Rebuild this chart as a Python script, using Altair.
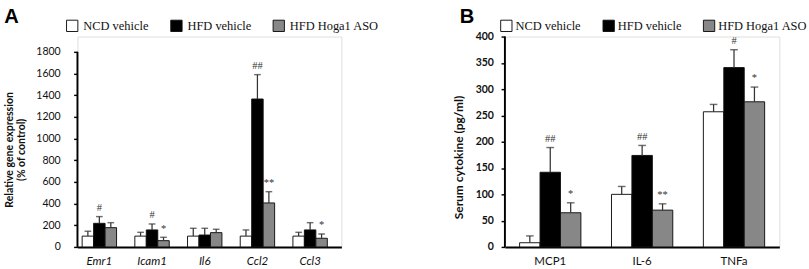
import altair as alt
import pandas as pd

groups = ["NCD vehicle", "HFD vehicle", "HFD Hoga1 ASO"]
fills = ["#ffffff", "#000000", "#878787"]

# Panel A: relative gene expression (% of control)
genes = ["Emr1", "Icam1", "Il6", "Ccl2", "Ccl3"]
a_ncd = [100, 100, 100, 100, 100]
a_ncd_err = [45, 35, 72, 57, 35]
a_hfd = [218, 157, 110, 1365, 157]
a_hfd_err = [62, 55, 62, 225, 67]
a_aso = [178, 58, 132, 406, 80]
a_aso_err = [46, 31, 31, 104, 40]
a_ncd_sig = ["", "", "", "", ""]
a_hfd_sig = ["#", "#", "", "##", ""]
a_aso_sig = ["", "*", "", "**", "*"]
a_ticks = [0, 200, 400, 600, 800, 1000, 1200, 1400, 1600, 1800]

# Panel B: serum cytokine (pg/ml)
cytokines = ["MCP1", "IL-6", "TNFa"]
b_ncd = [8, 100, 257]
b_ncd_err = [13, 15, 14]
b_hfd = [142, 174, 341]
b_hfd_err = [47, 19, 34]
b_aso = [65, 70, 276]
b_aso_err = [19, 12, 28]
b_ncd_sig = ["", "", ""]
b_hfd_sig = ["##", "##", "#"]
b_aso_sig = ["*", "**", "*"]
b_ticks = [0, 50, 100, 150, 200, 250, 300, 350, 400]

H = 220


def make_df(cats, vals, errs, sigs):
    rows = []
    for g, v, e, s in zip(groups, vals, errs, sigs):
        for c, vv, ee, ss in zip(cats, v, e, s):
            rows.append({"cat": c, "group": g, "value": vv, "top": vv + ee, "sig": ss})
    return pd.DataFrame(rows)


df_a = make_df(genes, [a_ncd, a_hfd, a_aso], [a_ncd_err, a_hfd_err, a_aso_err],
               [a_ncd_sig, a_hfd_sig, a_aso_sig])
df_b = make_df(cytokines, [b_ncd, b_hfd, b_aso], [b_ncd_err, b_hfd_err, b_aso_err],
               [b_ncd_sig, b_hfd_sig, b_aso_sig])

SANS = "Lato"
SERIF = "Liberation Serif"


def panel(df, cats, letter, ydom, yticks, ytitle, width, x_italic, tick_bold,
          tick_pad, title_size, title_y, align, pin, pout, leg_x, leg_off, cap, letter_dx,
          axis_top):
    yscale = alt.Scale(domain=[0, ydom], nice=False, zero=True)
    yaxis = alt.Axis(values=yticks, domain=False, grid=False, format="d",
                     labelOverlap=False, tickCount=len(yticks),
                     labelFont=SANS, labelFontSize=11,
                     labelFontWeight="bold" if tick_bold else "normal",
                     labelColor="#111", tickColor="black", tickSize=4,
                     tickWidth=1.5, labelPadding=tick_pad,
                     titleFont=SANS, titleFontSize=title_size,
                     titleFontWeight="bold", titleColor="#111",
                     titlePadding=10, titleY=title_y, titleLineHeight=12)
    xenc = alt.X("cat:N", sort=cats, title=None,
                 scale=alt.Scale(paddingInner=pin, paddingOuter=pout, align=align),
                 axis=alt.Axis(labelFont=SANS, labelFontSize=12, labelColor="#111",
                               labelFontStyle="italic" if x_italic else "normal",
                               labelAngle=0, ticks=False, labelPadding=9,
                               domainColor="black", domainWidth=2))
    xoff = alt.XOffset("group:N", sort=groups,
                       scale=alt.Scale(paddingInner=0, paddingOuter=0))
    base = alt.Chart(df).encode(x=xenc, xOffset=xoff)
    bars = base.mark_bar(stroke="#111", strokeWidth=1).encode(
        y=alt.Y("value:Q", scale=yscale, title=ytitle, axis=yaxis),
        color=alt.Color("group:N", sort=groups,
                        scale=alt.Scale(domain=groups, range=fills),
                        legend=alt.Legend(title=None, orient="none", direction="horizontal",
                                          legendX=leg_x, legendY=-18,
                                          symbolType="square", symbolSize=140,
                                          symbolStrokeColor="#111", symbolStrokeWidth=1,
                                          symbolOpacity=1,
                                          labelFont=SERIF, labelFontSize=13,
                                          labelColor="#111", labelOffset=leg_off,
                                          columnPadding=20)),
    )
    err = base.mark_rule(color="#333", strokeWidth=1.3).encode(
        y=alt.Y("value:Q", scale=yscale, title=ytitle, axis=yaxis), y2="top:Q")
    caps = base.mark_tick(color="#333", thickness=1.5, size=cap, orient="horizontal").encode(
        y=alt.Y("top:Q", scale=yscale, title=ytitle, axis=yaxis))
    sig = base.mark_text(font=SERIF, fontSize=11, color="#333", baseline="bottom", dy=-4).encode(
        y=alt.Y("top:Q", scale=yscale, title=ytitle, axis=yaxis), text="sig:N")
    axis_line = alt.Chart(pd.DataFrame({"lo": [0], "hi": [axis_top]})).mark_rule(
        color="black", strokeWidth=2).encode(
        x=alt.value(0), y=alt.Y("lo:Q", scale=yscale, title=ytitle, axis=yaxis), y2="hi:Q")
    return alt.layer(bars, err, caps, sig, axis_line).properties(
        width=width, height=H,
        title=alt.TitleParams(letter, anchor="start", font="Liberation Sans", fontSize=21,
                              fontWeight="bold", color="black", dx=letter_dx, offset=-8),
    )


chart_a = panel(df_a, genes, "A", 1800 * H / (H - 16), a_ticks,
                ["Relative gene expression", "(% of control)"], 276, True, False, 14,
                11, 118, 0.25, 0.347, 0.178, -12, 5, 7, 0, 1800)
chart_b = panel(df_b, cytokines, "B", 400, b_ticks, "Serum cytokine (pg/ml)", 287,
                False, True, 8, 12.5, 126, 0.5, 0.333, 0.16, -5, 3, 8, 7, 400)

chart = alt.hconcat(chart_a, chart_b, spacing=75).resolve_scale(
    color="independent", y="independent", x="independent", xOffset="independent"
).resolve_legend(color="independent").properties(
    padding={"left": 3, "top": 0, "right": 0, "bottom": 0}
).configure_view(stroke=None).configure(background="white")

chart.save("out.html", embed_options={"renderer": "svg", "actions": False})
